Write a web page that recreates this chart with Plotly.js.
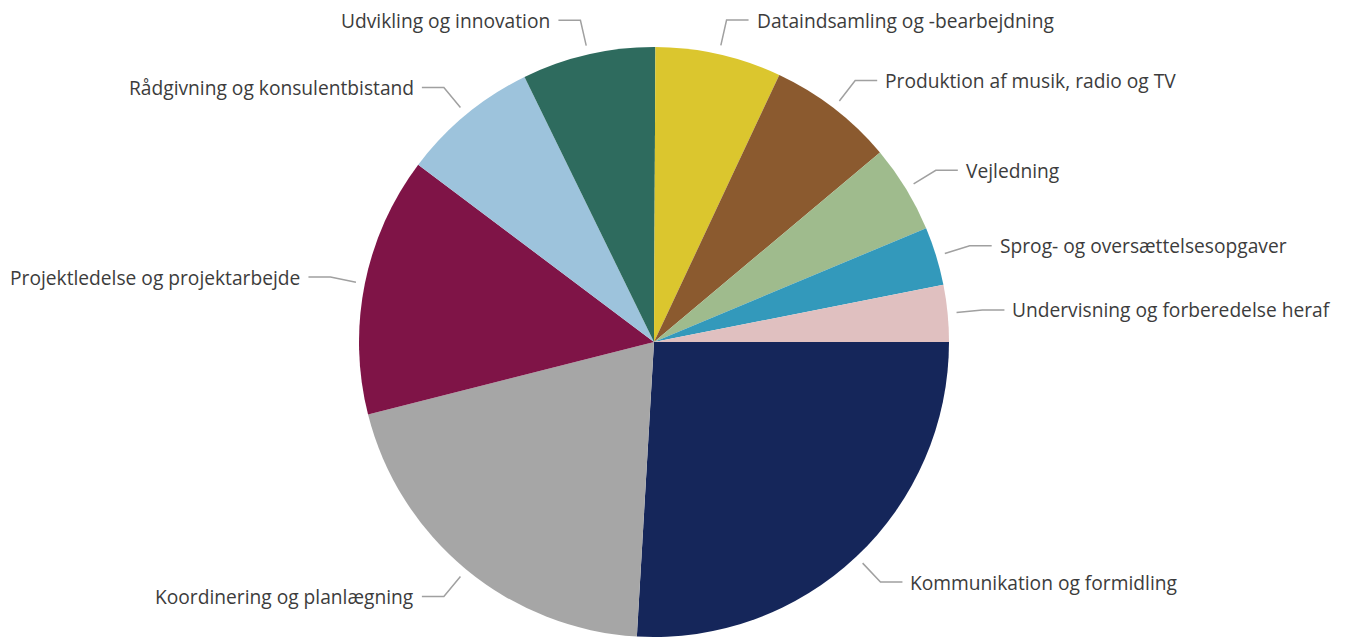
<!DOCTYPE html>
<html><head><meta charset="utf-8">
<script src="https://cdn.plot.ly/plotly-3.0.1.min.js"></script>
<style>html,body{margin:0;padding:0;background:#fff;}#chart{width:1348px;height:637px;}</style>
</head><body><div id="chart"></div>
<script>
const categories = ["Kommunikation og formidling","Koordinering og planlægning","Projektledelse og projektarbejde","Rådgivning og konsulentbistand","Udvikling og innovation","Dataindsamling og -bearbejdning","Produktion af musik, radio og TV","Vejledning","Sprog- og oversættelsesopgaver","Undervisning og forberedelse heraf"];
const values = [25.9, 20.1, 14.2, 7.5, 7.3, 6.9, 6.9, 4.8, 3.2, 3.1];
const colors = ["#15265a","#a6a6a6","#7f1447","#9dc3dc","#2e6b5e","#dbc62e","#8b5a2f","#9fbb8d","#3399bb","#e0c0c0"];

const W = 1348, H = 637;
const cx = 654, cy = 342, R = 295;
const dom = {x:[(cx-R)/W,(cx+R)/W], y:[1-(cy+R)/H, 1-(cy-R)/H]};
const px = x => x / W, py = y => 1 - y / H;

const total = values.reduce((a,b)=>a+b,0);
const shapes = [], annotations = [];
let acc = 0;
values.forEach((v,i)=>{
  const mid = (acc + v/2) / total * 2*Math.PI; // clockwise from 3 o'clock
  acc += v;
  const c = Math.cos(mid), s = Math.sin(mid);
  const x0 = cx + 304*c, y0 = cy + 304*s;
  const x1 = cx + 330*c, y1 = cy + 330*s;
  const right = c >= 0;
  const x2 = x1 + (right ? 22 : -22);
  shapes.push({type:'path', xref:'paper', yref:'paper',
    path:`M ${px(x0)} ${py(y0)} L ${px(x1)} ${py(y1)} L ${px(x2)} ${py(y1)}`,
    line:{color:'#a0a0a0', width:1.5}});
  annotations.push({xref:'paper', yref:'paper', x:px(x2 + (right?6:-6)), y:py(y1),
    xanchor: right?'left':'right', yanchor:'middle', showarrow:false,
    text:categories[i], font:{family:'Open Sans, sans-serif', size:19.2, color:'#3c3c3c'}});
});

Plotly.newPlot('chart', [{
  type:'pie', labels:categories, values:values, sort:false, direction:'clockwise', rotation:90,
  marker:{colors:colors, line:{width:0}}, textinfo:'none', hoverinfo:'label+percent',
  domain:dom, showlegend:false
}], {
  width:W, height:H, margin:{l:0,r:0,t:0,b:0}, paper_bgcolor:'#fff',
  shapes:shapes, annotations:annotations, showlegend:false
}, {displayModeBar:false, staticPlot:true});
</script></body></html>
